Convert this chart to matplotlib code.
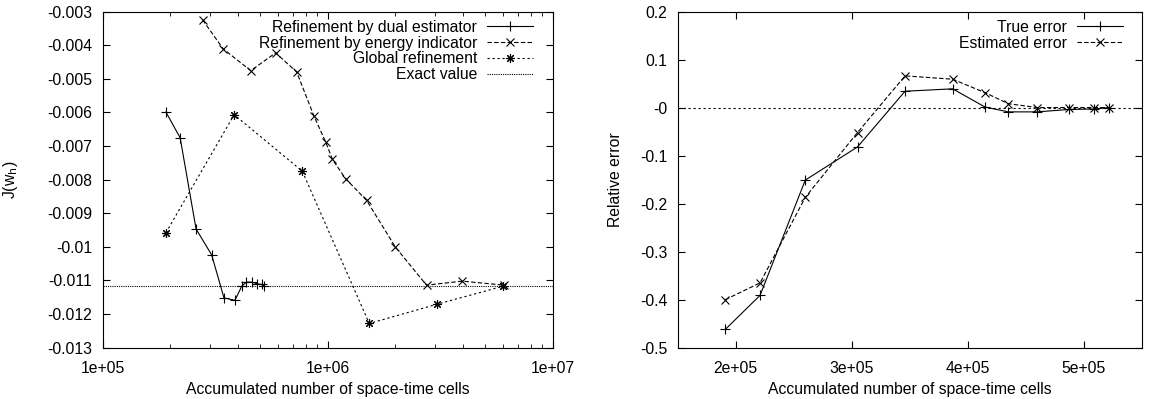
import numpy as np
import matplotlib
matplotlib.use("Agg")
import matplotlib.pyplot as plt
from matplotlib.ticker import FuncFormatter, LogLocator, NullFormatter

plt.rcParams['font.family'] = ['Liberation Sans', 'DejaVu Sans']
plt.rcParams['font.size'] = 11.3

# ---- left panel: functional value J(w_h) ----
dual_cells = [1.91e5, 2.21e5, 2.60e5, 3.05e5, 3.46e5, 3.87e5, 4.15e5, 4.35e5, 4.60e5, 4.87e5, 5.09e5, 5.22e5]
dual_J = [-0.00599, -0.00676, -0.00947, -0.01024, -0.01152, -0.01159, -0.01117, -0.01105, -0.01105, -0.01110, -0.01112, -0.01115]

energy_cells = [2.78e5, 3.43e5, 4.55e5, 5.87e5, 7.28e5, 8.69e5, 9.79e5, 1.05e6, 1.20e6, 1.49e6, 2.00e6, 2.75e6, 3.97e6, 6.09e6]
energy_J = [-0.00325, -0.00411, -0.00476, -0.00423, -0.00480, -0.00611, -0.00688, -0.00740, -0.00797, -0.00862, -0.01001, -0.01114, -0.01102, -0.01114]

global_cells = [1.91e5, 3.84e5, 7.71e5, 1.53e6, 3.05e6, 6.03e6]
global_J = [-0.00958, -0.00607, -0.00775, -0.01228, -0.01171, -0.01117]

exact_J = -0.01116

# ---- right panel: relative error ----
err_cells = dual_cells
true_err = [-0.462, -0.391, -0.151, -0.082, 0.034, 0.039, 0.001, -0.009, -0.009, -0.004, -0.003, 0.0]
est_err = [-0.400, -0.365, -0.187, -0.052, 0.066, 0.059, 0.031, 0.008, 0.0, 0.0, 0.0, 0.0]

W, H = 1149, 399
fig = plt.figure(figsize=(W / 100, H / 100), dpi=100)

lw = 0.8
ms = 6.5
star = (8, 2, 0)
leg_kw = dict(loc='upper right', frameon=False, markerfirst=False, handlelength=2.9,
              borderaxespad=0, borderpad=0, labelspacing=0.05, handletextpad=0.65)

ax1 = fig.add_axes([102.7 / W, 1 - 347.7 / H, 450 / W, 336.2 / H])
ax1.plot(dual_cells, dual_J, color='black', lw=lw, marker='+', ms=ms, mew=lw,
         label='Refinement by dual estimator')
ax1.plot(energy_cells, energy_J, color='black', lw=lw, ls=(0, (4, 2)), marker='x', ms=ms - 1, mew=lw,
         label='Refinement by energy indicator')
ax1.plot(global_cells, global_J, color='black', lw=lw, ls=(0, (2, 2.5)), marker=star, ms=ms, mew=lw,
         label='Global refinement')
ax1.axhline(exact_J, color='black', lw=lw, ls=(0, (1, 1)), label='Exact value')
ax1.set_xscale('log')
ax1.set_xlim(1e5, 1e7)
ax1.set_ylim(-0.013, -0.003)
ax1.set_yticks(np.arange(-0.013, -0.0029, 0.001))
ax1.yaxis.set_major_formatter(FuncFormatter(lambda v, p: '%g' % round(v, 4)))
ax1.xaxis.set_major_locator(LogLocator(base=10, numticks=5))
ax1.xaxis.set_minor_locator(LogLocator(base=10, subs=np.arange(2, 10), numticks=20))
ax1.xaxis.set_minor_formatter(NullFormatter())
ax1.xaxis.set_major_formatter(FuncFormatter(lambda v, p: '1e+%02d' % round(np.log10(v))))
ax1.set_xlabel('Accumulated number of space-time cells')
ax1.set_ylabel('J(w$_\\mathrm{h}$)')
ax1.xaxis.set_label_coords(0.5, -0.103)
ax1.yaxis.set_label_coords(-0.184, 0.5)
ax1.legend(bbox_to_anchor=(0.9556, 0.975), **leg_kw)

ax2 = fig.add_axes([677.7 / W, 1 - 347.7 / H, 464 / W, 336.2 / H])
ax2.axhline(0, color='black', lw=lw, ls=(0, (2, 2.5)))
ax2.plot(err_cells, true_err, color='black', lw=lw, marker='+', ms=ms, mew=lw, label='True error')
ax2.plot(err_cells, est_err, color='black', lw=lw, ls=(0, (4, 2)), marker='x', ms=ms - 1, mew=lw,
         label='Estimated error')
ax2.set_xlim(1.5e5, 5.5e5)
ax2.set_ylim(-0.5, 0.2)
ax2.set_xticks([2e5, 3e5, 4e5, 5e5])
ax2.xaxis.set_major_formatter(FuncFormatter(lambda v, p: '%de+05' % round(v / 1e5)))
ax2.set_yticks(np.arange(-0.5, 0.21, 0.1))
ax2.yaxis.set_major_formatter(FuncFormatter(lambda v, p: '%g' % round(v, 2)))
ax2.set_xlabel('Accumulated number of space-time cells')
ax2.set_ylabel('Relative error')
ax2.xaxis.set_label_coords(0.5, -0.103)
ax2.yaxis.set_label_coords(-0.118, 0.5)
ax2.legend(bbox_to_anchor=(0.959, 0.975), **leg_kw)

for ax in (ax1, ax2):
    ax.tick_params(which='both', direction='in', top=True, right=True)
    ax.tick_params(which='major', length=5, width=0.8)
    ax.tick_params(which='minor', length=3, width=0.6)
    ax.tick_params(axis='y', which='major', pad=7.5)
    ax.tick_params(axis='x', which='major', pad=9.5)
    for s in ax.spines.values():
        s.set_linewidth(0.8)

fig.savefig('out.png', dpi=100)
